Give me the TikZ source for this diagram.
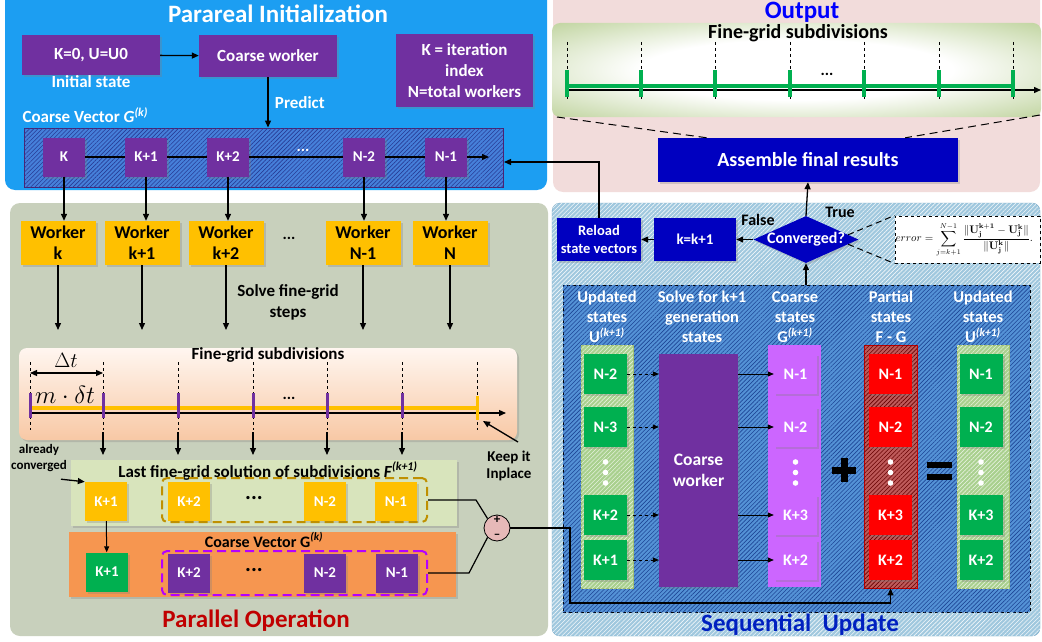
\documentclass[tikz,border=0pt]{standalone}
\usepackage[no-math]{fontspec}
\setmainfont{Carlito}
\usepackage{amsmath}
\usetikzlibrary{arrows.meta,shapes.geometric,patterns.meta,shadows,calc}

\definecolor{skyP}{RGB}{28,158,242}
\definecolor{pinkP}{RGB}{242,220,219}
\definecolor{sageP}{RGB}{200,208,188}
\definecolor{purp}{RGB}{112,48,160}
\definecolor{gold}{RGB}{255,192,0}
\definecolor{darkgold}{RGB}{191,144,0}
\definecolor{navy}{RGB}{0,0,192}
\definecolor{grn}{RGB}{0,176,80}
\definecolor{lilac}{RGB}{204,102,255}
\definecolor{orng}{RGB}{246,150,80}
\definecolor{pale}{RGB}{216,228,188}
\definecolor{peach}{RGB}{248,200,165}
\definecolor{peachTop}{RGB}{255,246,240}
\definecolor{olive}{RGB}{160,190,110}
\definecolor{seqbg}{RGB}{160,200,222}
\definecolor{seqbd}{RGB}{120,170,200}
\definecolor{inbg}{RGB}{84,146,214}
\definecolor{inln}{RGB}{30,70,150}
\definecolor{cvbg}{RGB}{70,128,218}
\definecolor{cvln}{RGB}{40,60,150}
\definecolor{dred}{RGB}{192,0,0}
\definecolor{magd}{RGB}{180,0,255}
\definecolor{pmfill}{RGB}{230,185,184}
\definecolor{lgreen}{RGB}{169,208,142}
\definecolor{rcolbg}{RGB}{190,90,90}
\definecolor{seqblue}{RGB}{0,32,192}

\pgfdeclareradialshading{glow}{\pgfpoint{0bp}{0bp}}{color(0bp)=(white);color(16bp)=(white);color(46bp)=(olive);color(80bp)=(olive)}

\begin{document}
\begin{tikzpicture}[x=1pt,y=-1pt,
  shd/.style={drop shadow={opacity=0.3,shadow xshift=2pt,shadow yshift=-2pt}},
  box/.style={inner sep=0pt, align=center, text=white, font=\bfseries\fontsize{17}{21}\selectfont, shd},
  pbox/.style={box, fill=purp},
  cell/.style={box, minimum width=42, minimum height=39, font=\bfseries\fontsize{15}{18}\selectfont},
  scell/.style={box, minimum width=43, minimum height=40, font=\bfseries\fontsize{16}{18}\selectfont},
  lbl/.style={font=\bfseries\fontsize{17}{20}\selectfont, align=center},
  hdr/.style={font=\bfseries\fontsize{16.5}{20}\selectfont, align=center, text=white},
  ttl/.style={font=\bfseries\fontsize{25}{28}\selectfont},
  arr/.style={-{Triangle[length=7pt,width=6pt]}, line width=1.3pt},
  thinarr/.style={-{Triangle[length=6pt,width=5pt]}, line width=0.8pt},
  hatch/.style={postaction={pattern={Lines[angle=45,distance=3pt,line width=0.6pt]}, pattern color=#1}},
  bigdots/.style={font=\bfseries\fontsize{16}{16}\selectfont},
  vdots/.style={white}
]
\useasboundingbox (0,0) rectangle (1042,642);
\fill[white] (0,0) rectangle (1042,642);

% ---------------- Parareal initialization ----------------
\fill[skyP, rounded corners=10] (5,-12) rectangle (547,190);
\node[ttl, text=white] (tInit) at (278,14) {Parareal Initialization};
\node[pbox, minimum width=138, minimum height=40] (u0) at (91,55) {K=0, U=U0};
\node[lbl, text=white] (u0lbl) at (91,82) {Initial state};
\node[pbox, minimum width=138, minimum height=42] (cw) at (268,56) {Coarse worker};
\node[pbox, minimum width=137, minimum height=73] (legend) at (464.5,70.5) {K = iteration\\index\\N=total workers};
\node[lbl, anchor=west, text=white] (cvlbl) at (19,115) {Coarse Vector \textit{G}\textsuperscript{\textit{(k)}}};
\node[minimum width=479, minimum height=59, inner sep=0, fill=cvbg, draw=purp!70!black, line width=1pt, hatch=cvln] (cvbox) at (263.5,157.5) {};
\node[cell, fill=purp] (g0) at (64,157) {K};
\node[cell, fill=purp] (g1) at (146,157) {K+1};
\node[cell, fill=purp] (g2) at (228,157) {K+2};
\node[cell, fill=purp] (g3) at (364,157) {N-2};
\node[cell, fill=purp] (g4) at (446,157) {N-1};
\node[bigdots, text=white] (gdots) at (303,150) {...};
\coordinate (cvend) at (489,157);
\draw[line width=1.2pt] (g0) -- (g1) -- (g2) -- (g3) -- (g4);
\draw[arr] (g4) -- (cvend);
\draw[arr] (u0) -- (cw);
\draw[arr] (cw.south) -- (cw.south |- cvbox.north) node[midway, right=3pt, lbl, text=white] {Predict};

% ---------------- Output ----------------
\fill[pinkP, rounded corners=10] (553,-12) rectangle (1040,192);
\node[ttl, text=blue] (tOut) at (802,12) {Output};
\shade[shading=glow, rounded corners=8] (552,23) rectangle (1041,117);
\node[font=\bfseries\fontsize{20}{22}\selectfont] (ofgs) at (798,33) {Fine-grid subdivisions};
\foreach \x in {567,641,715,790,864,939,1013} \draw[dashed, line width=0.6pt] (\x,42) -- (\x,101);
\draw[grn, line width=4pt] (567,86) -- (1013,86);
\coordinate (oa0) at (567,90);
\coordinate (oa1) at (1041,90);
\draw[arr] (oa0) -- (oa1);
\foreach \x in {567,641,715,790,864,939,1013} \draw[grn, line width=3.5pt] (\x,70) -- (\x,97);
\node[bigdots] (odots) at (827,74) {...};
\node[box, fill=navy, minimum width=300, minimum height=44, font=\bfseries\fontsize{20}{22}\selectfont] (asm) at (808,160) {Assemble final results};
\coordinate (gl) at (557,117);
\coordinate (gr) at (1040,115);
\draw[line width=1pt, dash pattern=on 8pt off 5pt] (gl) -- ($(asm.north west)+(49,0)$);
\draw[line width=1pt, dash pattern=on 8pt off 5pt] (gr) -- ($(asm.north east)+(-53,0)$);

% ---------------- Parallel operation ----------------
\fill[sageP, rounded corners=10] (10,203) rectangle (548,636);
\foreach \n/\x/\t in {w0/58/k, w1/142/k+1, w2/226/k+2, w3/363/N-1, w4/450/N}
  \node[box, fill=gold, text=black, minimum width=75, minimum height=44, font=\bfseries\fontsize{18}{21}\selectfont] (\n) at (\x,243) {Worker\\\t};
\node[bigdots] (wdots) at (289,238) {...};
\foreach \g/\w in {g0/w0, g1/w1, g2/w2, g3/w3, g4/w4} \draw[arr] (\g.south) -- (\g.south |- \w.north);
\coordinate (wend) at (0,330);
\foreach \w in {w0,w1,w2,w3,w4} \draw[arr] (\w.south) -- (\w.south |- wend);
\node[font=\bfseries\fontsize{17}{21}\selectfont, align=center] (solve) at (288,302) {Solve fine-grid\\steps};

\node[minimum width=498, minimum height=92, inner sep=0, rounded corners=8, top color=peachTop, bottom color=peach, shd] (fine) at (268,394) {};
\node[lbl] (finet) at (268,355) {Fine-grid subdivisions};
\foreach \x in {30,103,178,253,327,402,477} \draw[dashed, line width=0.6pt] (\x,362) -- (\x,430);
\draw[gold, line width=4pt] (30,408) -- (477,408);
\coordinate (ta0) at (30,413);
\coordinate (ta1) at (506,413);
\draw[arr] (ta0) -- (ta1);
\foreach \x in {30,103,178,253,327,402} \draw[purp, line width=3pt] (\x,393) -- (\x,418);
\draw[gold, line width=3pt] (477,396) -- (477,420);
\coordinate (dt0) at (30,373);
\coordinate (dt1) at (103,373);
\draw[{Triangle[length=7pt,width=6pt]}-{Triangle[length=7pt,width=6pt]}, line width=1.2pt] (dt0) -- (dt1);
\node[font=\fontsize{22}{24}\selectfont] (dtl) at (66,360) {$\Delta t$};
\node[font=\fontsize{23}{24}\selectfont] (mdt) at (65,395) {$m\cdot\delta t$};
\node[bigdots] (fdots) at (289,398) {...};
\foreach \x in {103,178,253,327,402} \draw[arr] (\x,432) -- (\x,455);
\node[font=\bfseries\fontsize{15}{17}\selectfont, align=center] (keep) at (509,466) {Keep it\\Inplace};
\coordinate (keepTip) at (483,421);
\coordinate (keepTail) at (518,442);
\draw[arr] (keepTail) -- (keepTip);
\node[font=\bfseries\fontsize{13}{16}\selectfont, align=center] (conv0) at (39,458) {already\\converged};

\node[fill=pale, minimum width=386, minimum height=66, inner sep=0, shd] (fbar) at (264,493) {};
\node[lbl] (fbart) at (268,471) {Last fine-grid solution of subdivisions \textit{F}\textsuperscript{\textit{(k+1)}}};
\node[cell, fill=gold] (fy0) at (106,501.5) {K+1};
\node[cell, fill=gold] (fy1) at (189,501.5) {K+2};
\node[cell, fill=gold] (fy2) at (325,501.5) {N-2};
\node[cell, fill=gold] (fy3) at (396,501.5) {N-1};
\node[draw=darkgold, line width=2pt, dash pattern=on 9pt off 5pt, rounded corners=5, minimum width=265, minimum height=44, inner sep=0] (fgrp) at (294.5,500) {};
\node[font=\bfseries\fontsize{22}{22}\selectfont] (fydots) at (254,498) {...};
\draw[arr] ($(conv0.south)+(22,4)$) -- (fy0.north west);

\node[fill=orng, minimum width=387, minimum height=65, inner sep=0, shd] (gbar) at (262.5,564.5) {};
\node[font=\bfseries\fontsize{16}{19}\selectfont] (gbart) at (264,540) {Coarse Vector G\textsuperscript{\textit{(k)}}};
\node[cell, fill=grn] (gy0) at (107,572) {K+1};
\node[cell, fill=purp] (gy1) at (189,573) {K+2};
\node[cell, fill=purp] (gy2) at (325,573) {N-2};
\node[cell, fill=purp] (gy3) at (397,573) {N-1};
\node[draw=magd, line width=2pt, dash pattern=on 9pt off 5pt, rounded corners=5, minimum width=265, minimum height=44, inner sep=0] (ggrp) at (294.5,573) {};
\node[font=\bfseries\fontsize{22}{22}\selectfont] (gydots) at (254,570) {...};
\draw[line width=1pt, -{Triangle[length=6pt,width=5pt]}] (fy0) -- (gy0);

\node[circle, draw, fill=pmfill, minimum size=26, inner sep=0, line width=0.8pt] (pm) at (497,528) {};
\node[font=\bfseries\fontsize{13}{13}\selectfont] (pmp) at (497,520) {+};
\node[font=\bfseries\fontsize{13}{13}\selectfont] (pmm) at (497,536) {–};
\draw[line width=1.2pt] (fgrp.east) -- ++(48,0) -- (pm.135);
\draw[line width=1.2pt] (ggrp.east) -- ++(41,0) -- (pm.225);

\node[ttl, text=dred] (tPar) at (256,621) {Parallel Operation};

% ---------------- Sequential update ----------------
\node[rounded corners=8, minimum width=488, minimum height=433, inner sep=0, fill=seqbg, draw=seqbd, hatch=white!85!seqbg] (seqP) at (796,419.5) {};
\node[box, fill=navy, minimum width=84, minimum height=43, font=\bfseries\fontsize{14.5}{18}\selectfont] (reload) at (599,239.5) {Reload\\state vectors};
\node[box, fill=navy, minimum width=82, minimum height=43, font=\bfseries\fontsize{15}{18}\selectfont] (kk) at (695,239.5) {k=k+1};
\node[diamond, fill=navy, minimum width=105, minimum height=47, inner sep=0, shd] (conv) at (806,239.5) {};
\node[font=\bfseries\fontsize{16}{19}\selectfont, text=white] (convt) at (conv) {Converged?};
\node[font=\bfseries\fontsize{16}{19}\selectfont] (fl) at (758,220) {False};
\node[font=\bfseries\fontsize{16}{19}\selectfont] (tr) at (840,212) {True};
\draw[arr] (conv.west) -- (kk.east);
\draw[arr] (kk.west) -- (reload.east);
\draw[arr] (conv.north) -- (asm.south);
\coordinate (cvin) at (504,162);
\draw[arr] (reload.north) |- (cvin);

\node[draw, dashed, line width=1pt, fill=white, minimum width=145, minimum height=47, inner sep=0] (errb) at (967.5,239.5) {};
\begin{scope}
  \clip (errb.south west) rectangle (errb.north east);
  \node[font=\fontsize{10.5}{12}\selectfont, anchor=east] (errf) at ($(errb.east)+(-4,0)$) {$\displaystyle error=\sum_{j=k+1}^{N-1}\frac{\|\mathbf{U}_{\mathbf{j}}^{\mathbf{k+1}}-\mathbf{U}_{\mathbf{j}}^{\mathbf{k}}\|}{\|\mathbf{U}_{\mathbf{j}}^{\mathbf{k}}\|}.$};
\end{scope}
\draw[line width=1pt, dash pattern=on 6pt off 4pt] ($(conv.north)!0.8!(conv.east)$) -- (errb.north west);
\draw[line width=1pt, dash pattern=on 6pt off 4pt] ($(conv.south)!0.8!(conv.east)$) -- (errb.south west);

\node[minimum width=467, minimum height=327, inner sep=0, fill=inbg, draw, dashed, line width=0.8pt, hatch=inln] (inner) at (796.5,448.5) {};
\draw[arr] (inner.north -| conv.south) -- (conv.south);

\node[hdr] (h1) at (607,317) {Updated\\states\\U\textsuperscript{\textit{(k+1)}}};
\node[hdr] (h2) at (702,317) {Solve for k+1\\generation\\states};
\node[hdr] (h3) at (795,317) {Coarse\\states\\G\textsuperscript{\textit{(k+1)}}};
\node[hdr] (h4) at (891,317) {Partial\\states\\F - G};
\node[hdr] (h5) at (983,317) {Updated\\states\\U\textsuperscript{\textit{(k+1)}}};

% column 1: updated states
\node[minimum width=52, minimum height=243, inner sep=0, fill=lgreen, draw=olive, hatch=white!70!lgreen] (col1) at (607,466.5) {};
\node[scell, fill=grn] (a1) at (605.5,374) {N-2};
\node[scell, fill=grn] (a2) at (605.5,427) {N-3};
\node[scell, fill=grn] (a3) at (605.5,515) {K+2};
\node[scell, fill=grn] (a4) at (605.5,560) {K+1};
\foreach \y in {462,472.5,483} \fill[vdots] (605.5,\y) circle (2.8);

% column 2: coarse worker
\node[box, fill=purp, minimum width=79, minimum height=233, font=\bfseries\fontsize{17.5}{21}\selectfont] (cwk) at (698.5,470.5) {Coarse\\worker};
\foreach \a in {a1,a2,a3,a4} \draw[thinarr, dashed] (\a.east) -- (\a.east -| cwk.west);

% column 3: coarse states
\node[minimum width=53, minimum height=242, inner sep=0, fill=lilac] (col3) at (794.5,466) {};
\node[scell, fill=lilac] (c1) at (795.5,374) {N-1};
\node[scell, fill=lilac] (c2) at (795.5,427) {N-2};
\node[scell, fill=lilac] (c3) at (795.5,515) {K+3};
\node[scell, fill=lilac] (c4) at (795.5,560) {K+2};
\foreach \y in {462,472.5,483} \fill[vdots] (795.5,\y) circle (2.8);
\foreach \c in {c1,c2,c3,c4} \draw[thinarr] (cwk.east |- \c.west) -- (\c.west);

% plus sign
\draw[line width=7pt] (832,470) -- (856,470);
\draw[line width=7pt] (844,458) -- (844,482);

% column 4: partial states
\node[minimum width=53, minimum height=243, inner sep=0, fill=rcolbg, draw=red!80!black, line width=0.8pt, hatch=red!40!black] (rcol) at (890.5,466.5) {};
\node[scell, fill=red] (r1) at (890.5,374) {N-1};
\node[scell, fill=red] (r2) at (890.5,427) {N-2};
\node[scell, fill=red] (r3) at (890.5,515) {K+3};
\node[scell, fill=red] (r4) at (890.5,560) {K+2};
\foreach \y in {462,472.5,483} \fill[vdots] (890.5,\y) circle (2.8);

% equals sign
\draw[line width=6pt] (927,465) -- (952,465);
\draw[line width=6pt] (927,477) -- (952,477);

% column 5: updated states
\node[minimum width=52, minimum height=243, inner sep=0, fill=lgreen, draw=olive, hatch=white!70!lgreen] (col5) at (983,466.5) {};
\node[scell, fill=grn] (e1) at (981,374) {N-1};
\node[scell, fill=grn] (e2) at (981,427) {N-2};
\node[scell, fill=grn] (e3) at (981,515) {K+3};
\node[scell, fill=grn] (e4) at (981,560) {K+2};
\foreach \y in {462,472.5,483} \fill[vdots] (981,\y) circle (2.8);

% F - G feedback into the partial states
\draw[arr] (pm.east) -- (570,528) -- (570,603) -| (rcol.south);

\node[ttl, text=seqblue] (tSeq) at (800,625) {Sequential\ \ Update};
\end{tikzpicture}
\end{document}
